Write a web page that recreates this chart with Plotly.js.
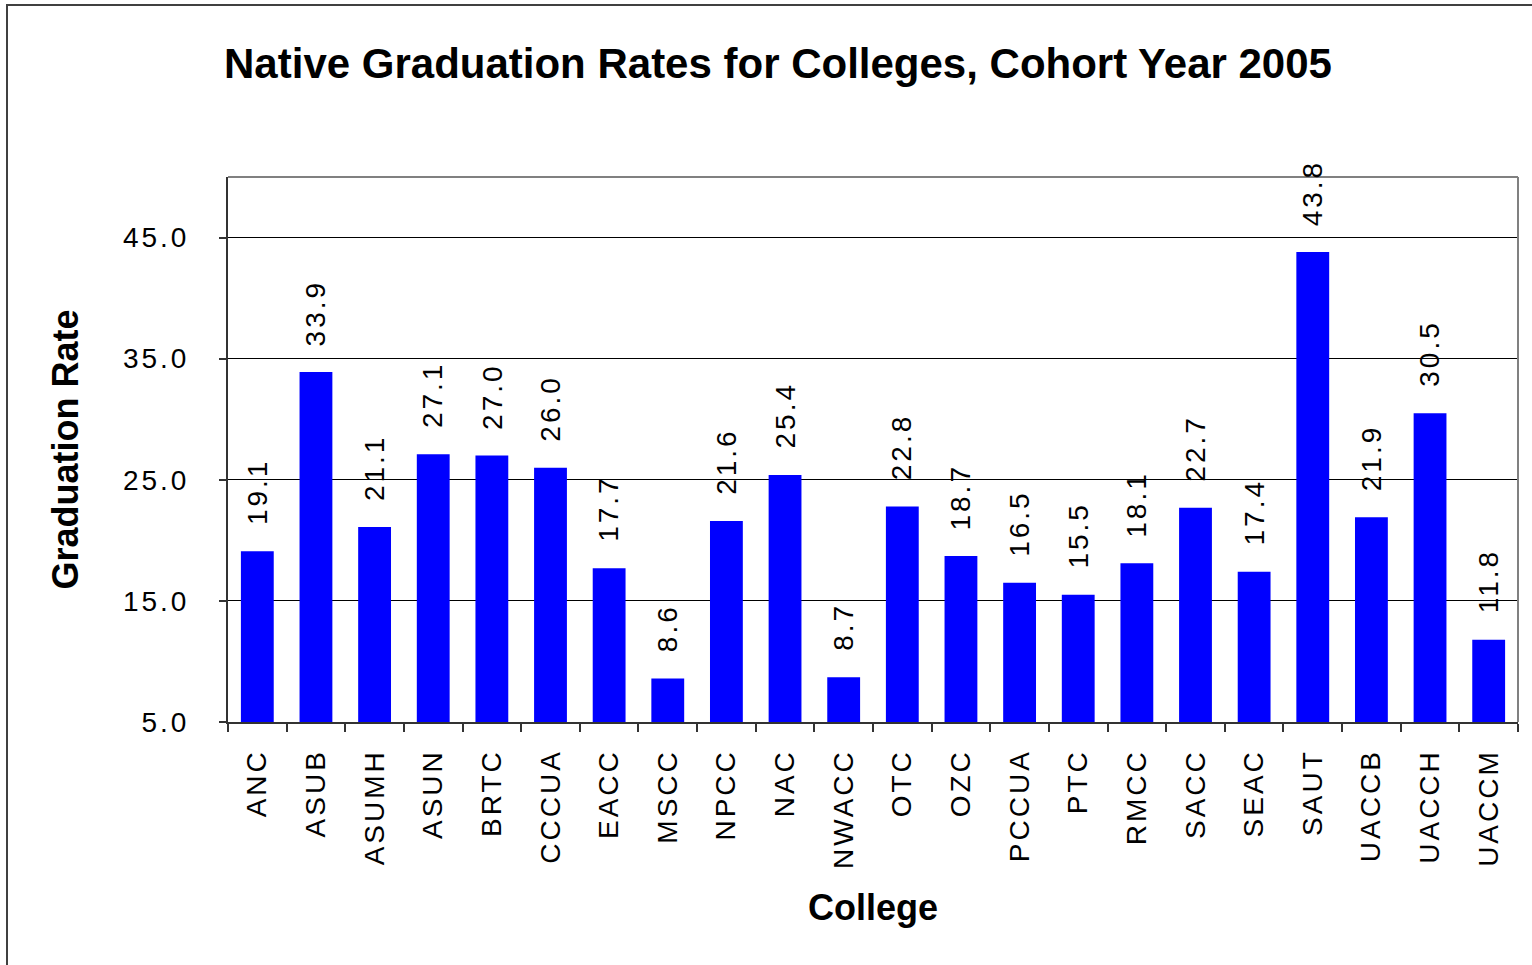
<!DOCTYPE html>
<html><head><meta charset="utf-8">
<script src="https://cdn.plot.ly/plotly-3.0.1.min.js"></script>
<style>
html,body{margin:0;padding:0;overflow:hidden;background:#fff}
#chart{width:1532px;height:965px}
.xtick text,.ytick text,.annotation-text{letter-spacing:3px}
</style></head><body><div id="chart"></div>
<script>
const colleges = ['ANC','ASUB','ASUMH','ASUN','BRTC','CCCUA','EACC','MSCC','NPCC','NAC','NWACC','OTC','OZC','PCCUA','PTC','RMCC','SACC','SEAC','SAUT','UACCB','UACCH','UACCM'];
const gradRates = [19.1,33.9,21.1,27.1,27.0,26.0,17.7,8.6,21.6,25.4,8.7,22.8,18.7,16.5,15.5,18.1,22.7,17.4,43.8,21.9,30.5,11.8];
const yTickVals = [5,15,25,35,45];
const yTickText = ['5.0','15.0','25.0','35.0','45.0'];
const chartTitle = 'Native Graduation Rates for Colleges, Cohort Year 2005';
const xTitle = 'College';
const yTitle = 'Graduation Rate';

const W = 1532, H = 965;
const M = {l:228, r:14, t:177, b:243};
const pw = W - M.l - M.r, ph = H - M.t - M.b;
const FONT = 'Arial, "Liberation Sans", sans-serif';

const trace = {
  type:'bar', x:colleges, y:gradRates,
  marker:{color:'#0000FF', line:{width:0}},
  hoverinfo:'x+y'
};

const annotations = colleges.map((c,i)=>({
  x:c, y:gradRates[i], xref:'x', yref:'y',
  text:gradRates[i].toFixed(1), showarrow:false,
  textangle:-90, xanchor:'center', yanchor:'bottom', yshift:24,
  font:{family:FONT, size:28, color:'#000'}
}));

const layout = {
  width:W, height:H,
  margin:M,
  paper_bgcolor:'#fff', plot_bgcolor:'#fff',
  showlegend:false,
  bargap:0.44,
  title:{text:'<b>'+chartTitle+'</b>', font:{family:FONT, size:42, color:'#000'},
    xref:'container', x:778/W, xanchor:'center', yref:'container', y:1-63/H, yanchor:'middle'},
  xaxis:{
    type:'category', tickangle:-90, tickson:'boundaries',
    ticks:'outside', ticklen:8, tickwidth:2, tickcolor:'#333',
    showline:true, linecolor:'#333', linewidth:2,
    showgrid:false, ticklabelstandoff:14,
    tickfont:{family:FONT, size:28, color:'#000'},
    title:{text:'<b>'+xTitle+'</b>', font:{family:FONT, size:36, color:'#000'}, standoff:27},
    automargin:false, fixedrange:true
  },
  yaxis:{
    range:[5,50], tickmode:'array', tickvals:yTickVals, ticktext:yTickText,
    ticks:'outside', ticklen:7, tickwidth:2, tickcolor:'#333',
    showline:true, linecolor:'#333', linewidth:2,
    showgrid:true, gridcolor:'#000', gridwidth:1, zeroline:false,
    ticklabelstandoff:24,
    tickfont:{family:FONT, size:28, color:'#000'},
    title:{text:'<b>'+yTitle+'</b>', font:{family:FONT, size:36, color:'#000'}, standoff:33},
    automargin:false, fixedrange:true
  },
  annotations:annotations,
  shapes:[
    {type:'line', xref:'paper', yref:'paper', x0:0, x1:1, y0:1, y1:1, line:{color:'#808080', width:2}},
    {type:'line', xref:'paper', yref:'paper', x0:1, x1:1, y0:0, y1:1, line:{color:'#808080', width:2}},
    {type:'rect', xref:'paper', yref:'paper', x0:(7-M.l)/pw, x1:3, y0:-3, y1:1+(M.t-5)/ph, line:{color:'#404040', width:2}, fillcolor:'rgba(0,0,0,0)'}
  ]
};

Plotly.newPlot('chart',[trace],layout,{displayModeBar:false, staticPlot:true});
</script></body></html>
